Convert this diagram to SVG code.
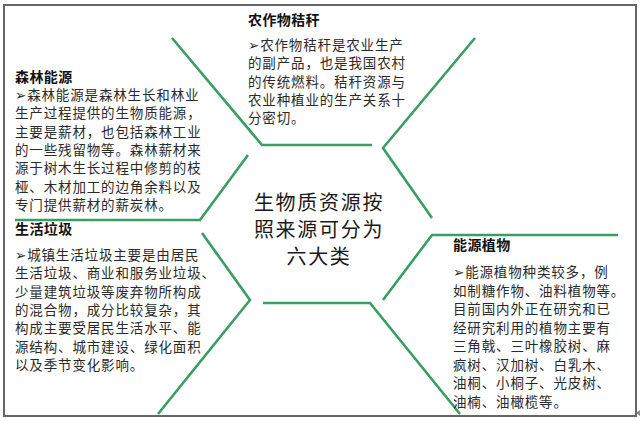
<svg xmlns="http://www.w3.org/2000/svg" width="640" height="421" viewBox="0 0 640 421">
<style>
.frame{fill:#fff;stroke:#666;stroke-width:2}
.ln{fill:none;stroke:#3a9e63;stroke-width:2.6;stroke-linejoin:miter}
.tt{font-family:"Noto Sans CJK SC","DejaVu Sans",sans-serif;font-size:14px;font-weight:bold;fill:#111;letter-spacing:0.4px}
.bd{font-family:"Noto Sans CJK SC","DejaVu Sans",sans-serif;font-size:13.5px;fill:#2a2a2a;letter-spacing:0.85px}
.ct{font-family:"Noto Sans CJK SC",sans-serif;font-size:20px;fill:#1a1a1a;letter-spacing:1.7px;text-anchor:middle}
</style>
<rect x="0" y="0" width="640" height="421" fill="#fff"/>
<rect class="frame" x="4" y="5" width="632" height="411"/>
<polygon points="640,410 640,416 636,413" fill="#888"/>
<g id="connectors">
<polyline class="ln" points="172,38 262,145 372,145"/>
<polyline class="ln" points="475,38 383,148 432,218"/>
<polyline class="ln" points="618,235 432,235 383,300"/>
<polyline class="ln" points="263,303 370,303 460,414"/>
<polyline class="ln" points="202,233 250,300 158,414"/>
<polyline class="ln" points="15,220 200,220 248,155"/>
</g>
<g id="node-straw">
<text class="tt" x="248" y="25.3">农作物秸秆</text>
<text class="bd" x="248" y="50">
<tspan x="248">➢农作物秸秆是农业生产</tspan>
<tspan x="248" dy="18.3">的副产品，也是我国农村</tspan>
<tspan x="248" dy="18.3">的传统燃料。秸秆资源与</tspan>
<tspan x="248" dy="18.3">农业种植业的生产关系十</tspan>
<tspan x="248" dy="18.3">分密切。</tspan>
</text>
</g>
<g id="node-forest">
<text class="bd" x="15" y="82">
<tspan x="15" style="font-size:14px;font-weight:bold;fill:#111;letter-spacing:0.4px">森林能源</tspan>
<tspan x="15" dy="18">➢森林能源是森林生长和林业</tspan>
<tspan x="15" dy="18.3">生产过程提供的生物质能源，</tspan>
<tspan x="15" dy="18.3">主要是薪材，也包括森林工业</tspan>
<tspan x="15" dy="18.3">的一些残留物等。森林薪材来</tspan>
<tspan x="15" dy="18.3">源于树木生长过程中修剪的枝</tspan>
<tspan x="15" dy="18.3">桠、木材加工的边角余料以及</tspan>
<tspan x="15" dy="18.3">专门提供薪材的薪炭林。</tspan>
</text>
</g>
<g id="node-waste">
<text class="tt" x="15" y="234.3">生活垃圾</text>
<text class="bd" x="15" y="260">
<tspan x="15">➢城镇生活垃圾主要是由居民</tspan>
<tspan x="15" dy="18.3">生活垃圾、商业和服务业垃圾、</tspan>
<tspan x="15" dy="18.3">少量建筑垃圾等废弃物所构成</tspan>
<tspan x="15" dy="18.3">的混合物，成分比较复杂，其</tspan>
<tspan x="15" dy="18.3">构成主要受居民生活水平、能</tspan>
<tspan x="15" dy="18.3">源结构、城市建设、绿化面积</tspan>
<tspan x="15" dy="18.3">以及季节变化影响。</tspan>
</text>
</g>
<g id="node-plants">
<text class="tt" x="453" y="250.3">能源植物</text>
<text class="bd" x="453" y="277">
<tspan x="453">➢能源植物种类较多，例</tspan>
<tspan x="453" dy="18.5">如制糖作物、油料植物等。</tspan>
<tspan x="453" dy="18.5">目前国内外正在研究和已</tspan>
<tspan x="453" dy="18.5">经研究利用的植物主要有</tspan>
<tspan x="453" dy="18.5">三角戟、三叶橡胶树、麻</tspan>
<tspan x="453" dy="18.5">疯树、汉加树、白乳木、</tspan>
<tspan x="453" dy="18.5">油桐、小桐子、光皮树、</tspan>
<tspan x="453" dy="18.5">油楠、油橄榄等。</tspan>
</text>
</g>
<g id="node-center">
<text class="ct" x="319" y="209.5">生物质资源按</text>
<text class="ct" x="319" y="236.5">照来源可分为</text>
<text class="ct" x="319" y="263.5">六大类</text>
</g>
</svg>
